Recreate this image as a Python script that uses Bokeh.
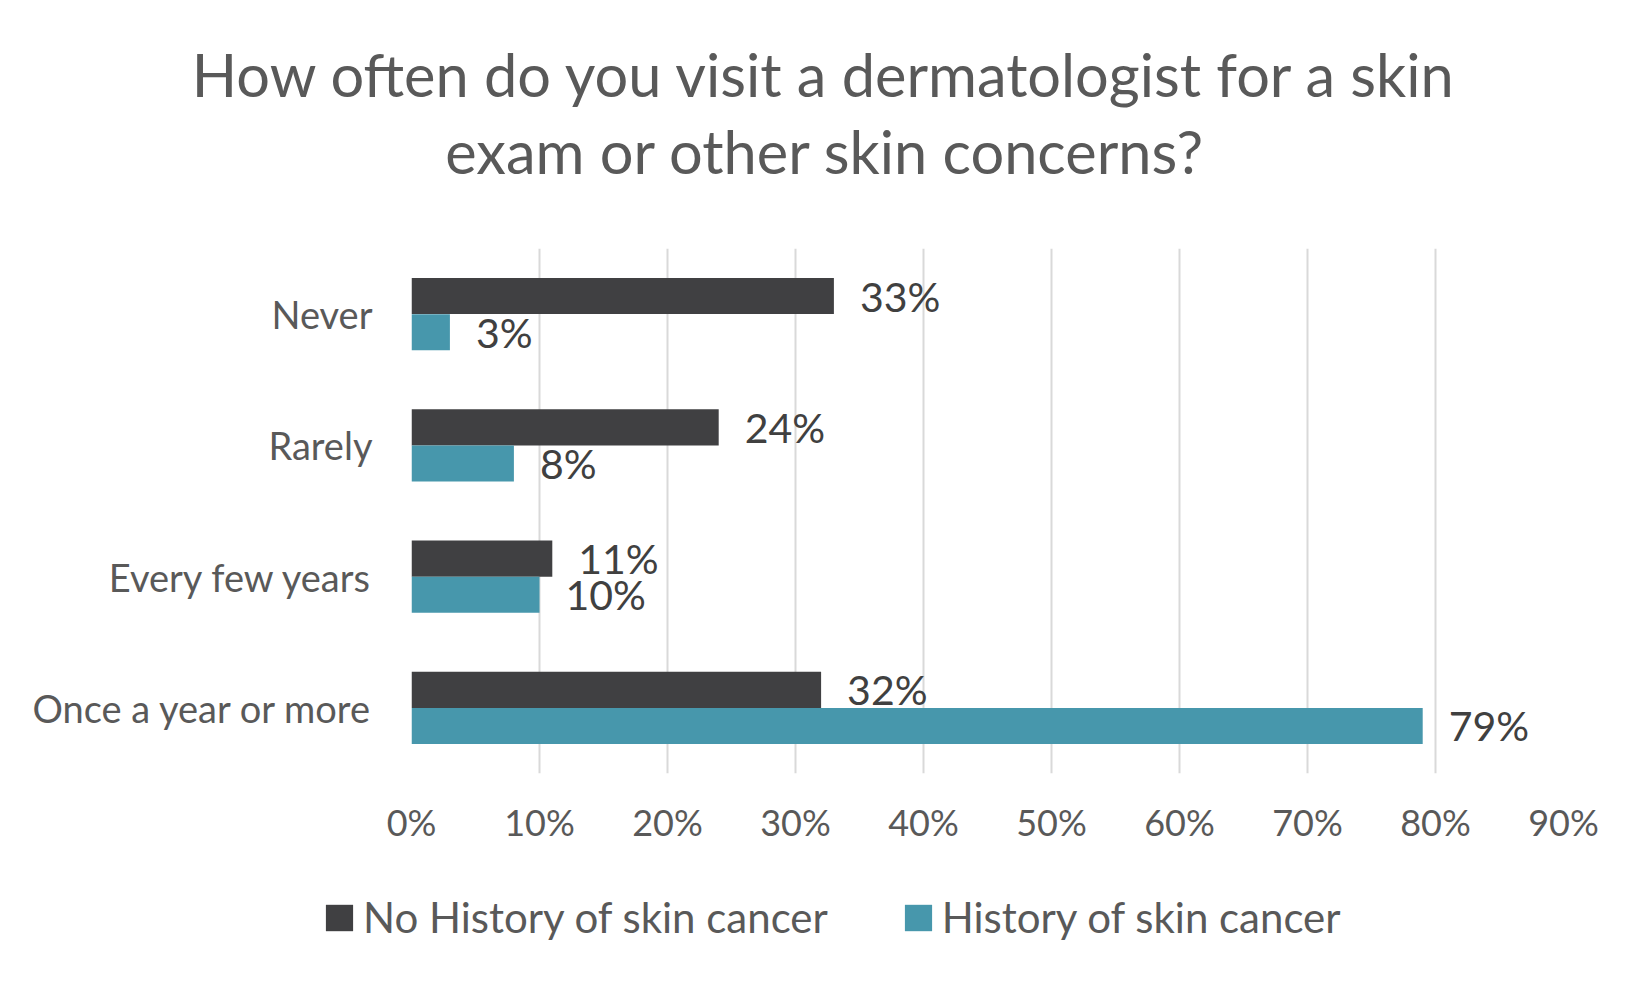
from bokeh.plotting import figure
from bokeh.layouts import column
from bokeh.models import (FactorRange, Range1d, FixedTicker, PrintfTickFormatter,
                          Legend, LegendItem, ColumnDataSource, Plot)
from bokeh.transform import dodge
from bokeh.embed import file_html
from bokeh.resources import INLINE
from bokeh.core.properties import value

# ---- data ----
categories = ["Never", "Rarely", "Every few years", "Once a year or more"]
no_history = [33, 24, 11, 32]
history = [3, 8, 10, 79]
series_names = ["No History of skin cancer", "History of skin cancer"]
x_ticks = [0, 10, 20, 30, 40, 50, 60, 70, 80, 90]
title_lines = ["How often do you visit a dermatologist for a skin",
               "exam or other skin concerns?"]

# ---- style ----
FONT = "Lato"
DARK = "#404042"
TEAL = "#4797AC"
GRAY_TEXT = "#595959"
LABEL_TEXT = "#404040"
GRID = "#D9D9D9"
BAR_H = 0.275
W = 1634
TITLE_H = 200
MAIN_H = 660
LEG_H = 114

HAS_FRAME_ALIGN = "frame_align" in Plot.properties()


def blank(height, flip=True):
    f = figure(width=W, height=height, x_range=Range1d(0, W),
               y_range=Range1d(height, 0) if flip else Range1d(0, height),
               output_backend="svg",
               toolbar_location=None, x_axis_type=None, y_axis_type=None,
               min_border=0)
    if HAS_FRAME_ALIGN:
        f.frame_align = False
    f.outline_line_color = None
    f.xgrid.visible = False
    f.ygrid.visible = False
    return f


# ---- title ----
tf = blank(TITLE_H)
tf.text(x=[825, 825], y=[73, 150], text=title_lines, text_align="center",
        text_baseline="alphabetic", text_font=value(FONT),
        text_font_size="59.5px", text_color=GRAY_TEXT)

# ---- main chart ----
src = ColumnDataSource(dict(
    cat=categories,
    nh=no_history,
    h=history,
    nh_lbl=[f"{v}%" for v in no_history],
    h_lbl=[f"{v}%" for v in history],
))

p = figure(width=W, height=MAIN_H,
           y_range=FactorRange(factors=categories[::-1], range_padding=0),
           x_range=Range1d(0, 90),
           output_backend="svg", toolbar_location=None,
           min_border_left=411, min_border_right=W - 1563,
           min_border_top=48, min_border_bottom=87)
if HAS_FRAME_ALIGN:
    p.frame_align = False
p.outline_line_color = None

r1 = p.hbar(y=dodge("cat", BAR_H / 2, range=p.y_range), left=0, right="nh",
            height=BAR_H, fill_color=DARK, line_color=None, source=src)
r2 = p.hbar(y=dodge("cat", -BAR_H / 2, range=p.y_range), left=0, right="h",
            height=BAR_H, fill_color=TEAL, line_color=None, source=src)

for col, lbl, off in (("nh", "nh_lbl", BAR_H / 2), ("h", "h_lbl", -BAR_H / 2)):
    p.text(x=col, y=dodge("cat", off, range=p.y_range), text=lbl,
           x_offset=26, text_baseline="middle", text_align="left",
           text_font=value(FONT), text_font_size="41px",
           text_color=LABEL_TEXT, source=src)

p.xaxis.ticker = FixedTicker(ticks=x_ticks)
p.xaxis.formatter = PrintfTickFormatter(format="%d%%")
p.xaxis.axis_line_color = None
p.xaxis.major_tick_line_color = None
p.xaxis.minor_tick_line_color = None
p.xaxis.major_label_standoff = 20
p.xaxis.major_label_text_font = FONT
p.xaxis.major_label_text_font_size = "36px"
p.xaxis.major_label_text_color = GRAY_TEXT

p.yaxis.axis_line_color = None
p.yaxis.major_tick_line_color = None
p.yaxis.minor_tick_line_color = None
p.yaxis.major_label_standoff = 33
p.yaxis.major_label_text_font = FONT
p.yaxis.major_label_text_font_size = "38px"
p.yaxis.major_label_text_color = GRAY_TEXT

p.xgrid.grid_line_color = GRID
p.xgrid.grid_line_width = 2
p.ygrid.grid_line_color = None

# ---- legend (zero-size bars only carry the swatch colours) ----
lf = blank(LEG_H, flip=False)
g1 = lf.hbar(y=[0], left=[0], right=[0], height=0, fill_color=DARK, line_color=None)
g2 = lf.hbar(y=[0], left=[0], right=[0], height=0, fill_color=TEAL, line_color=None)
legend = Legend(items=[LegendItem(label=series_names[0], renderers=[g1]),
                       LegendItem(label=series_names[1], renderers=[g2])],
                orientation="horizontal", location=(322, 32),
                glyph_width=34, glyph_height=33, label_standoff=7,
                spacing=73, padding=0, margin=0,
                border_line_color=None, background_fill_alpha=0,
                label_text_font=FONT, label_text_font_size="42px",
                label_text_color=GRAY_TEXT)
lf.add_layout(legend)

layout = column(tf, p, lf, spacing=0)
open("out.html", "w").write(file_html(layout, INLINE))
